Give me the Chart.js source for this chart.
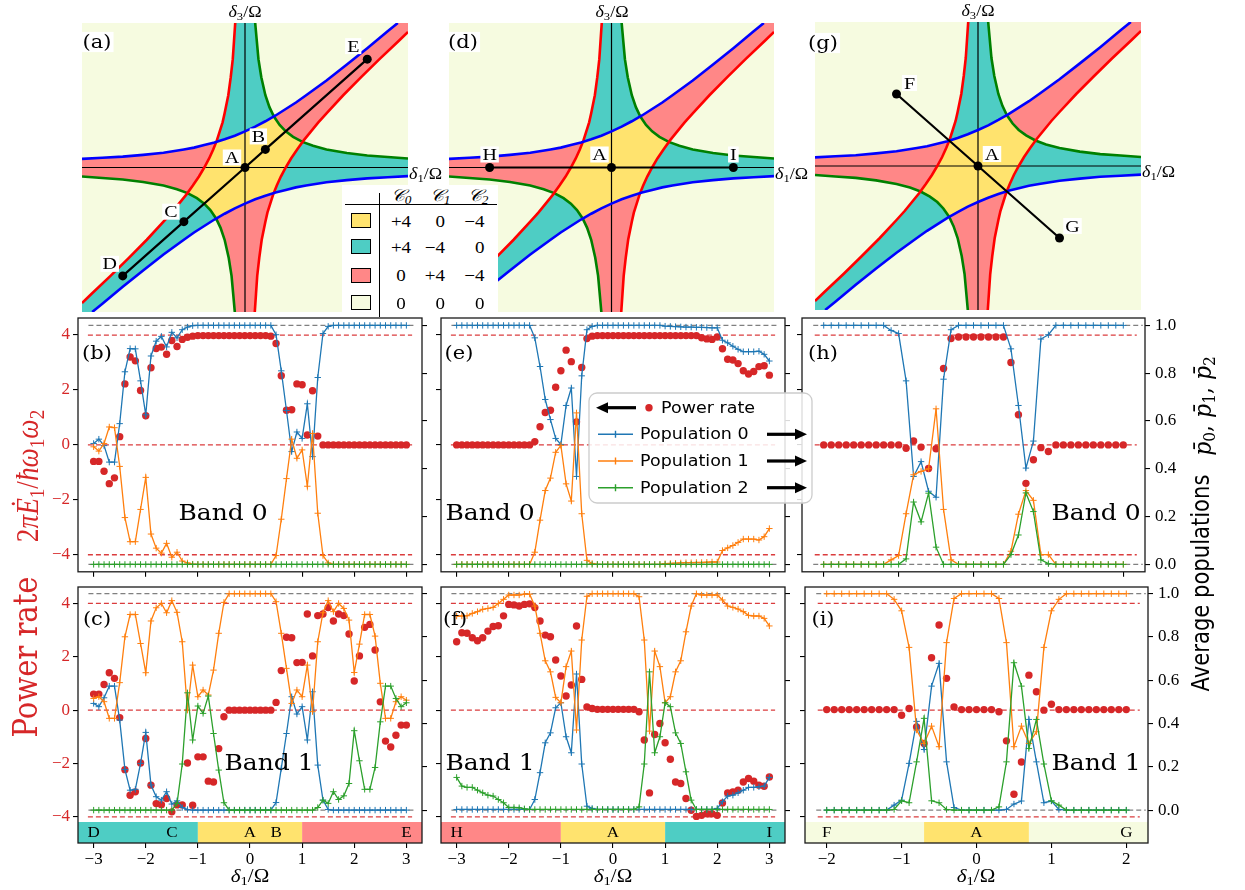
<!DOCTYPE html>
<html>
<head>
<meta charset="utf-8">
<script src="https://cdn.jsdelivr.net/npm/chart.js"></script>
<style>
  body { margin: 0; background: #fff; }
  #fig { position: relative; width: 1245px; height: 890px; overflow: hidden; background: #fff; }
  #fig canvas { position: absolute; }
  .t { position: absolute; white-space: nowrap; line-height: 1; font-family: 'DejaVu Serif', serif; color: #000;
       transform: translate(-50%, -50%) scaleY(0.88); z-index: 6; }
  .t sub { font-size: 0.7em; vertical-align: -0.28em; line-height: 0; }
</style>
</head>
<body>
<div id="fig"></div>
<script>
// sweep grids along the cuts
const x61 = [-3,-2.9,-2.8,-2.7,-2.6,-2.5,-2.4,-2.3,-2.2,-2.1,-2,-1.9,-1.8,-1.7,-1.6,-1.5,-1.4,-1.3,-1.2,-1.1,-1,-0.9,-0.8,-0.7,-0.6,-0.5,-0.4,-0.3,-0.2,-0.1,0,0.1,0.2,0.3,0.4,0.5,0.6,0.7,0.8,0.9,1,1.1,1.2,1.3,1.4,1.5,1.6,1.7,1.8,1.9,2,2.1,2.2,2.3,2.4,2.5,2.6,2.7,2.8,2.9,3];
const x41 = [-2,-1.9,-1.8,-1.7,-1.6,-1.5,-1.4,-1.3,-1.2,-1.1,-1,-0.9,-0.8,-0.7,-0.6,-0.5,-0.4,-0.3,-0.2,-0.1,0,0.1,0.2,0.3,0.4,0.5,0.6,0.7,0.8,0.9,1,1.1,1.2,1.3,1.4,1.5,1.6,1.7,1.8,1.9,2];

// (b) band 0, cut D-E
const bPower = [-0.6,-0.6,-0.96,-1.41,-1.2,0.3,2.22,3.2,3.06,1.98,1.06,2.81,3.51,3.56,3.3,3.8,3.58,3.84,3.92,3.96,
  3.98,3.98,3.98,3.98,3.98,3.98,3.98,3.98,3.98,3.98,3.98,3.98,3.98,3.98,
  3.96,3.69,2.52,1.26,1.28,2.22,2.19,0.36,1.97,0.32,
  0,0,0,0,0,0,0,0,0,0,0,0,0,0,0,0,0];
const bPop0 = [0.506,0.524,0.497,0.428,0.428,0.589,0.806,0.903,0.902,0.768,0.626,0.872,0.934,0.954,0.91,0.971,0.948,0.982,0.993,0.999,
  1,1,1,1,1,1,1,1,1,1,1,1,1,1,1,
  0.961,0.81,0.644,0.472,0.554,0.527,0.672,0.451,0.782,0.966,0.996,
  1,1,1,1,1,1,1,1,1,1,1,1,1,1,1];
const bPop1 = [0.492,0.474,0.506,0.575,0.572,0.41,0.196,0.095,0.095,0.23,0.364,0.127,0.068,0.047,0.088,0.03,0.051,0.014,0.006,0.001,
  0,0,0,0,0,0,0,0,0,0,0,0,0,0,0,
  0.037,0.189,0.359,0.524,0.444,0.479,0.327,0.548,0.214,0.037,0.006,
  0,0,0,0,0,0,0,0,0,0,0,0,0,0,0];
const bPop2 = [0,0,0,0,0,0,0,0,0,0,0,0,0,0,0,0,0,0,0,0,0,0,0,0,0,0,0,0,0,0,0,0,0,0,0,0,0,0,0,0,0,0,0,0,0,0,0,0,0,0,0,0,0,0,0,0,0,0,0,0,0];

// (c) band 1, cut D-E
const cPower = [0.6,0.6,0.96,1.4,1.19,-0.28,-2.23,-3.19,-3.06,-1.98,-1.06,-2.81,-3.5,-3.54,-3.31,-3.81,-3.55,-3.55,-1.98,-3.56,-1.75,-1.75,-2.66,-2.69,-1.44,-0.25,
  0,0,0,0,0,0,0,0,0,
  0.29,1.48,2.73,2.71,1.78,1.79,3.6,2.03,3.54,3.6,3.84,3.34,3.6,3.54,2.85,1.09,2.03,3.1,3.21,2.25,0.31,-1.16,-1.38,-0.94,-0.56,-0.56];
const cPop0 = [0.493,0.478,0.519,0.573,0.573,0.416,0.188,0.092,0.096,0.216,0.359,0.116,0.062,0.046,0.085,0.028,0.043,0.012,0.003,0,
  0,0,0,0,0,0,0,0,0,0,0,0,0,0,0,
  0.035,0.193,0.354,0.524,0.444,0.478,0.324,0.547,0.208,0.046,0.003,
  0,0,0,0,0,0,0,0,0,0,0,0,0,0,0];
const cPop1 = [0.516,0.524,0.501,0.424,0.424,0.589,0.801,0.904,0.904,0.77,0.635,0.874,0.935,0.955,0.912,0.968,0.914,0.778,0.462,0.67,0.524,0.555,0.532,0.647,0.817,0.96,
  1,1,1,1,1,1,1,1,1,
  0.963,0.817,0.655,0.493,0.555,0.524,0.67,0.455,0.778,0.912,0.968,0.917,0.955,0.932,0.878,0.636,0.767,0.904,0.904,0.804,0.586,0.424,0.424,0.501,0.524,0.508];
const cPop2 = [0,0,0,0,0,0,0,0,0,0,0,0,0,0,0,0,
  0.031,0.213,0.542,0.324,0.481,0.447,0.527,0.354,0.185,0.034,
  0,0,0,0,0,0,0,0,0,0,0,0,0,0,0,0,0,
  0.012,0.046,0.031,0.085,0.049,0.066,0.123,0.367,0.228,0.096,0.096,0.197,0.408,0.573,0.573,0.516,0.478,0.496];

// (e) band 0, cut H-I
const ePower = [0,0,0,0,0,0,0,0,0,0,0,0,0,0,0,
  0.12,0.66,1.18,1.26,2.1,2.7,3.45,3.03,0.84,2.82,3.87,3.96,
  3.98,3.98,3.98,3.98,3.98,3.98,3.98,3.98,3.98,3.98,3.98,3.98,3.98,3.98,3.98,3.98,3.98,3.98,3.98,3.98,
  3.9,3.86,3.84,3.93,3.5,3.12,3.09,2.96,2.7,2.58,2.67,2.85,2.88,2.54];
const ePop0 = [1,1,1,1,1,1,1,1,1,1,1,1,1,1,1,
  0.948,0.828,0.69,0.606,0.527,0.502,0.665,0.738,0.368,0.789,0.982,0.996,
  1,1,1,1,1,1,1,1,1,1,1,1,1,
  0.997,0.996,0.995,0.994,0.993,0.993,0.992,0.992,0.991,0.99,0.99,
  0.938,0.927,0.913,0.9,0.89,0.89,0.89,0.892,0.879,0.851];
const ePop1 = [0,0,0,0,0,0,0,0,0,0,0,0,0,0,0,
  0.051,0.185,0.309,0.361,0.469,0.498,0.337,0.265,0.634,0.212,0.017,0.004,
  0,0,0,0,0,0,0,0,0,0,0,0,0,
  0.003,0.004,0.005,0.006,0.007,0.007,0.008,0.008,0.009,0.01,0.01,
  0.058,0.069,0.079,0.092,0.106,0.106,0.106,0.102,0.116,0.15];
const ePop2 = [0,0,0,0,0,0,0,0,0,0,0,0,0,0,0,0,0,0,0,0,0,0,0,0,0,0,0,0,0,0,0,0,0,0,0,0,0,0,0,0,0,0,0,0,0,0,0,0,0,0,0,0,0,0,0,0,0,0,0,0,0];

// (f) band 1, cut H-I
const fPower = [2.56,2.9,2.88,2.71,2.6,2.71,2.96,3.13,3.16,3.53,3.96,3.94,3.9,3.96,3.98,3.84,3.34,2.81,2.75,1.88,1.28,0.53,0.94,3.15,1.15,0.12,0.06,
  0.03,0.03,0.03,0.03,0.03,0.03,0.03,0.03,
  -0.06,-1.12,-3.1,-0.91,-0.5,-1.22,-1.84,-2.69,-2.75,-3.31,-3.75,-3.98,-3.94,-3.88,-3.88,-3.94,-3.48,-3.1,-3.06,-3.0,-2.69,-2.56,-2.66,-2.81,-2.85,-2.5];
const fPop0 = [0.003,0.003,0.003,0.003,0.003,0.003,0.003,0.003,0.003,0.003,0.003,0.003,0.003,0.003,0.003,
  0.049,0.173,0.311,0.357,0.473,0.496,0.339,0.265,0.629,0.213,0.018,0.008,
  0.003,0.003,0.003,0.003,0.003,0.003,0.003,0.003,0.003,0.003,0.003,0.003,0.003,0.003,0.003,0.003,0.003,0.003,0.003,0.003,0.003,0.003,0.003,
  0.008,0.039,0.065,0.069,0.08,0.092,0.105,0.105,0.108,0.111,0.151];
const fPop1 = [0.897,0.897,0.898,0.909,0.917,0.928,0.932,0.937,0.955,0.974,0.994,0.994,0.994,0.998,0.998,0.943,0.817,0.69,0.639,0.521,0.496,0.663,0.735,0.37,0.786,0.988,1,
  1,1,1,1,1,1,1,1,
  0.986,0.786,0.365,0.735,0.663,0.496,0.524,0.639,0.69,0.824,0.943,1,0.994,0.994,0.994,0.994,0.971,0.943,0.937,0.929,0.917,0.9,0.897,0.897,0.886,0.851];
const fPop2 = [0.151,0.111,0.105,0.105,0.092,0.08,0.069,0.065,0.049,0.034,0.012,0.012,0.011,0.006,
  0.003,0.003,0.003,0.003,0.003,0.003,0.003,0.003,0.003,0.003,0.003,0.003,0.003,0.003,0.003,0.003,0.003,0.003,0.003,0.003,0.003,
  0.015,0.213,0.639,0.265,0.339,0.496,0.478,0.357,0.308,0.177,0.046,
  0.003,0.003,0.003,0.003,0.003,0.003,0.003,0.003,0.003,0.003,0.003,0.003,0.003,0.003,0.003];

// (h) band 0, cut F-G
const hPower = [0,0,0,0,0,0,0,0,0,0,0,
  -0.12,0.14,-0.08,-0.86,-0.14,2.78,3.87,
  3.93,3.93,3.93,3.93,3.93,3.93,3.93,
  3.0,1.1,-1.4,-0.54,-0.1,-0.24,
  0,0,0,0,0,0,0,0,0,0];
const hPop0 = [1,1,1,1,1,1,1,1,1,
  0.979,0.966,0.768,0.368,0.43,0.306,0.281,0.775,0.982,
  1,1,1,1,1,1,1,
  0.902,0.665,0.403,0.516,0.943,0.961,
  1,1,1,1,1,1,1,1,1,1];
const hPop1 = [0,0,0,0,0,0,0,0,0,
  0.019,0.037,0.212,0.375,0.389,0.4,0.651,0.23,0.019,
  0,0,0,0,0,0,0,
  0.055,0.21,0.309,0.268,0.041,0.041,
  0,0,0,0,0,0,0,0,0,0];
const hPop2 = [0,0,0,0,0,0,0,0,0,0,0,
  0.023,0.261,0.178,0.298,0.072,0,
  0,0,0,0,0,0,0,0,
  0.041,0.123,0.299,0.221,0.019,0.003,
  0,0,0,0,0,0,0,0,0,0];

// (i) band 1, cut F-G
const iPower = [0.02,0.02,0.02,0.02,0.02,0.02,0.02,0.02,0.02,0.02,
  -0.19,0.06,-0.63,-1.25,1.96,3.19,1.19,0.12,
  0.02,0.02,0.02,0.02,0.02,
  -0.06,-1.15,-3.15,-1.94,1.31,0.69,0,0.22,
  0.02,0.02,0.02,0.02,0.02,0.02,0.02,0.02,0.02,0.02];
const iPop0 = [0,0,0,0,0,0,0,0,0,
  0.023,0.046,0.216,0.41,0.28,0.573,0.678,0.223,0.012,
  0,0,0,0,0,0,
  0.003,0.028,0.042,0.419,0.223,0.034,0.042,0.003,
  0,0,0,0,0,0,0,0,0];
const iPop1 = [1,1,1,1,1,1,1,1,1,
  0.974,0.921,0.752,0.37,0.308,0.388,0.293,0.774,0.978,
  1,1,1,1,1,
  0.978,0.774,0.293,0.388,0.308,0.362,0.752,0.921,0.974,
  1,1,1,1,1,1,1,1,1];
const iPop2 = [0,0,0,0,0,0,0,0,0,
  0.003,0.043,0.034,0.223,0.424,0.043,0.034,0.003,
  0,0,0,0,0,0,
  0.015,0.223,0.681,0.573,0.285,0.419,0.213,0.043,0.023,
  0,0,0,0,0,0,0,0,0];

// ticks and reference levels
const wideTicks = [-3, -2, -1, 0, 1, 2, 3];
const narrowTicks = [-2, -1, 0, 1, 2];
const powerTicks = [-4, -2, 0, 2, 4];
const popTicks = [0, 0.2, 0.4, 0.6, 0.8, 1];
const powerRefs = [-4, 0, 4];
const popRefs = [0, 1];

// phase boundaries in the (delta1, delta3) plane
const blueUpper = [[-4,0.24],[-3.5,0.27],[-3,0.3],[-2.5,0.35],[-2,0.41],[-1.5,0.5],[-1.25,0.55],[-1,0.62],[-0.75,0.69],[-0.5,0.78],[-0.25,0.88],[0,1],[0.25,1.13],[0.5,1.28],[0.75,1.44],[1,1.62],[1.25,1.8],[1.5,2],[2,2.41],[2.5,2.85],[3,3.3],[3.5,3.77],[3.75,4]];
const blueLower = [[-3.75,-4],[-3.5,-3.77],[-3,-3.3],[-2.5,-2.85],[-2,-2.41],[-1.5,-2],[-1.25,-1.8],[-1,-1.62],[-0.75,-1.44],[-0.5,-1.28],[-0.25,-1.13],[0,-1],[0.25,-0.88],[0.5,-0.78],[0.75,-0.69],[1,-0.62],[1.25,-0.55],[1.5,-0.5],[2,-0.41],[2.5,-0.35],[3,-0.3],[3.5,-0.27],[4,-0.24]];
const redRight = [[0.24,-4],[0.27,-3.5],[0.3,-3],[0.35,-2.5],[0.41,-2],[0.5,-1.5],[0.55,-1.25],[0.62,-1],[0.69,-0.75],[0.78,-0.5],[0.88,-0.25],[1,0],[1.13,0.25],[1.28,0.5],[1.44,0.75],[1.62,1],[1.8,1.25],[2,1.5],[2.41,2],[2.85,2.5],[3.3,3],[3.77,3.5],[4,3.75]];
const redLeft = [[-0.24,4],[-0.27,3.5],[-0.3,3],[-0.35,2.5],[-0.41,2],[-0.5,1.5],[-0.55,1.25],[-0.62,1],[-0.69,0.75],[-0.78,0.5],[-0.88,0.25],[-1,0],[-1.13,-0.25],[-1.28,-0.5],[-1.44,-0.75],[-1.62,-1],[-1.8,-1.25],[-2,-1.5],[-2.41,-2],[-2.85,-2.5],[-3.3,-3],[-3.77,-3.5],[-4,-3.75]];
const greenUpper = [[0.25,4],[0.29,3.5],[0.33,3],[0.4,2.5],[0.5,2],[0.6,1.67],[0.71,1.41],[0.85,1.18],[1,1],[1.18,0.85],[1.41,0.71],[1.67,0.6],[2,0.5],[2.5,0.4],[3,0.33],[3.5,0.29],[4,0.25]];
const greenLower = [[-0.25,-4],[-0.29,-3.5],[-0.33,-3],[-0.4,-2.5],[-0.5,-2],[-0.6,-1.67],[-0.71,-1.41],[-0.85,-1.18],[-1,-1],[-1.18,-0.85],[-1.41,-0.71],[-1.67,-0.6],[-2,-0.5],[-2.5,-0.4],[-3,-0.33],[-3.5,-0.29],[-4,-0.25]];
const axisH = [[-4,0],[4,0]];
const axisV = [[0,-4],[0,4]];

// cuts through the phase diagram
const cutA = [[-3,-3],[-1.5,-1.5],[0,0],[0.5,0.5],[3,3]];
const cutANames = ['D','C','A','B','E'];
const cutD = [[-3,0],[0,0],[3,0]];
const cutDNames = ['H','A','I'];
const cutG = [[-2,2],[0,0],[2,-2]];
const cutGNames = ['F','A','G'];

// phases met along each cut
const stripCEdges = [-1, 1];
const stripCPhases = ['teal','yellow','salmon'];
const stripCNames = [['D',-3],['C',-1.5],['A',0],['B',0.5],['E',3]];
const stripFEdges = [-1, 1];
const stripFPhases = ['salmon','yellow','teal'];
const stripFNames = [['H',-3],['A',0],['I',3]];
const stripIEdges = [-0.7, 0.7];
const stripIPhases = ['none','yellow','none'];
const stripINames = [['F',-2],['A',0],['G',2]];

// Chern numbers table
const chernHead = ['\u{1D49E}<sub>0</sub>','\u{1D49E}<sub>1</sub>','\u{1D49E}<sub>2</sub>'];
const chernRows = [['+4','0','\u22124'],['+4','\u22124','0'],['0','+4','\u22124'],['0','0','0']];
const chernPhases = ['yellow','teal','salmon','none'];

const legendNames = ['Power rate','Population 0','Population 1','Population 2'];

// styles
const PHASE = {yellow: '#ffe36e', teal: '#4ecdc4', salmon: '#ff8787', none: '#f6fbe0'};
const RED = '#d62728', BLUE = '#1f77b4', ORANGE = '#ff7f0e', GREEN = '#2ca02c';
const fig = document.getElementById('fig');

function addCanvas(l, t, w, h, z) {
  const c = document.createElement('canvas');
  c.width = w; c.height = h;
  c.style.cssText = `left:${l}px;top:${t}px;width:${w}px;height:${h}px;z-index:${z}`;
  fig.appendChild(c);
  return c;
}
function text(html, x, y, css) {
  const d = document.createElement('div');
  d.className = 't';
  d.innerHTML = html;
  d.style.left = x + 'px';
  d.style.top = y + 'px';
  if (css) d.style.cssText += css;
  fig.appendChild(d);
  return d;
}
const squashText = (ctx, s, x, y) => { ctx.save(); ctx.translate(x, y); ctx.scale(1, 0.88); ctx.fillText(s, 0, 0); ctx.restore(); };

// ---------- phase diagrams ----------
const phaseFill = {
  id: 'phaseFill',
  beforeDatasetsDraw(chart) {
    const {ctx, chartArea: a, scales: {x, y}} = chart;
    const trace = pts => {
      ctx.beginPath();
      pts.forEach(([u, v], i) => ctx[i ? 'lineTo' : 'moveTo'](x.getPixelForValue(u), y.getPixelForValue(v)));
      ctx.closePath();
    };
    const paint = (clips, shape, color) => {
      ctx.save();
      clips.forEach(c => { trace(c); ctx.clip(); });
      trace(shape);
      ctx.fillStyle = color;
      ctx.fill();
      ctx.restore();
    };
    const setB = [...blueUpper, [4,4], ...blueLower.slice().reverse(), [-4,-4]];
    const setR = [...redRight, [4,4], ...redLeft, [-4,-4]];
    const setG = [...greenUpper, [4,-4], ...greenLower, [-4,4]];
    const right = [[0,-4],[4,-4],[4,4],[0,4]], left = [[-4,-4],[0,-4],[0,4],[-4,4]];
    const up = [[-4,0],[4,0],[4,4],[-4,4]], down = [[-4,-4],[4,-4],[4,0],[-4,0]];
    ctx.save();
    ctx.fillStyle = PHASE.none;
    ctx.fillRect(a.left, a.top, a.width, a.height);
    ctx.restore();
    paint([right, setR], setB, PHASE.salmon);
    paint([left, setR], setB, PHASE.teal);
    paint([setG, right], setB, PHASE.teal);
    paint([setG, left], setB, PHASE.salmon);
    paint([setG, up], setR, PHASE.teal);
    paint([setG, down], setR, PHASE.salmon);
    paint([setG, setR], setB, PHASE.yellow);
  }
};
const pointLabels = (pts, names, offs) => ({
  id: 'pointLabels',
  afterDatasetsDraw(chart) {
    const {ctx, scales: {x, y}} = chart;
    ctx.save();
    ctx.font = '20px "Liberation Serif"';
    ctx.textAlign = 'center';
    ctx.textBaseline = 'middle';
    pts.forEach(([u, v], i) => {
      const px = x.getPixelForValue(u) + offs[i][0], py = y.getPixelForValue(v) + offs[i][1];
      const w = ctx.measureText(names[i]).width + 4;
      ctx.fillStyle = '#fff';
      ctx.fillRect(px - w / 2, py - 8, w, 16);
      ctx.fillStyle = '#000';
      squashText(ctx, names[i], px, py + 1);
    });
    ctx.restore();
  }
});
function phasePanel(box, cut, names, offs) {
  const cv = addCanvas(box[0], box[1], box[2], box[3], 1);
  const line = (pts, color, w) => ({data: pts.map(([x, y]) => ({x, y})), borderColor: color, borderWidth: w, pointRadius: 0});
  new Chart(cv, {
    type: 'line',
    data: {datasets: [
      {...line(cut, '#000', 2.2), pointRadius: 4.5, pointBackgroundColor: '#000', pointBorderWidth: 0},
      line(blueUpper, '#0000ff', 2.6), line(blueLower, '#0000ff', 2.6),
      line(redLeft, '#ff0000', 2.6), line(redRight, '#ff0000', 2.6),
      line(greenUpper, '#008000', 2.6), line(greenLower, '#008000', 2.6),
      line(axisH, '#000', 1.2), line(axisV, '#000', 1.2)
    ]},
    options: {
      responsive: false, animation: false, events: [],
      layout: {padding: 0, autoPadding: false},
      plugins: {legend: {display: false}, tooltip: {enabled: false}},
      scales: {
        x: {type: 'linear', min: -4, max: 4, display: false},
        y: {type: 'linear', min: -4, max: 4, display: false}
      }
    },
    plugins: [phaseFill, pointLabels(cut, names, offs)]
  });
}
phasePanel([82, 23, 326, 289], cutA, cutANames, [[-13,-12],[-13,-10],[-13,-10],[-7,-13],[-14,-13]]);
phasePanel([449, 23, 325, 289], cutD, cutDNames, [[0,-13],[-12,-13],[0,-13]]);
phasePanel([815, 22, 326, 288], cutG, cutGNames, [[13,-11],[14,-12],[13,-12]]);

// ---------- sweep panels ----------
const frame = {
  id: 'frame',
  afterDatasetsDraw(chart) {
    const {ctx, chartArea: a} = chart;
    ctx.save();
    ctx.strokeStyle = '#1a1a1a';
    ctx.lineWidth = 1.3;
    ctx.strokeRect(a.left, a.top, a.width, a.height);
    ctx.restore();
  }
};
const phaseStrip = (edges, phases, names) => ({
  id: 'phaseStrip',
  beforeDatasetsDraw(chart) {
    const {ctx, chartArea: a, scales: {x}} = chart;
    const xs = [a.left, ...edges.map(e => x.getPixelForValue(e)), a.right];
    const top = a.bottom - 21;
    ctx.save();
    phases.forEach((p, i) => { ctx.fillStyle = PHASE[p]; ctx.fillRect(xs[i], top, xs[i + 1] - xs[i], a.bottom - top); });
    ctx.fillStyle = '#000';
    ctx.font = '17px "Liberation Serif"';
    ctx.textAlign = 'center';
    ctx.textBaseline = 'middle';
    names.forEach(([s, v]) => squashText(ctx, s, x.getPixelForValue(v), (top + a.bottom) / 2 + 1));
    ctx.restore();
  }
});
const arrow = (ctx, x0, x1, y) => {
  const dir = Math.sign(x1 - x0);
  ctx.beginPath();
  ctx.moveTo(x0, y);
  ctx.lineTo(x1 - dir * 9, y);
  ctx.lineWidth = 3.2;
  ctx.strokeStyle = '#000';
  ctx.stroke();
  ctx.beginPath();
  ctx.moveTo(x1, y);
  ctx.lineTo(x1 - dir * 12, y - 5.5);
  ctx.lineTo(x1 - dir * 12, y + 5.5);
  ctx.closePath();
  ctx.fillStyle = '#000';
  ctx.fill();
};
const legendBox = {
  id: 'legendBox',
  afterDraw(chart) {
    const {ctx, chartArea: a} = chart;
    const L = a.left, T = a.top;
    const rows = [89.7, 116.3, 143, 169.7];
    ctx.save();
    ctx.beginPath();
    ctx.roundRect(L + 148, T + 75, 223, 110, 8);
    ctx.fillStyle = 'rgba(255,255,255,0.85)';
    ctx.fill();
    ctx.strokeStyle = '#cccccc';
    ctx.lineWidth = 1.3;
    ctx.stroke();
    ctx.font = '17.5px "DejaVu Sans"';
    ctx.textAlign = 'left';
    ctx.textBaseline = 'middle';
    arrow(ctx, L + 195, L + 155, T + rows[0]);
    ctx.beginPath();
    ctx.arc(L + 208, T + rows[0], 3.7, 0, Math.PI * 2);
    ctx.fillStyle = RED;
    ctx.fill();
    ctx.fillStyle = '#000';
    squashText(ctx, legendNames[0], L + 220, T + rows[0] + 1);
    [BLUE, ORANGE, GREEN].forEach((c, k) => {
      const y = T + rows[k + 1];
      ctx.strokeStyle = c;
      ctx.lineWidth = 1.4;
      ctx.beginPath();
      ctx.moveTo(L + 157, y); ctx.lineTo(L + 192, y);
      ctx.moveTo(L + 174.5, y - 3.5); ctx.lineTo(L + 174.5, y + 3.5);
      ctx.stroke();
      ctx.fillStyle = '#000';
      squashText(ctx, legendNames[k + 1], L + 199, y + 1);
      arrow(ctx, L + 326, L + 366, y);
    });
    ctx.restore();
  }
};

const minusFmt = v => String(v).replace('-', '\u2212');
const tickFont = {family: 'Liberation Serif', size: 17};

function sweepPanel(o) {
  const M = 56, PT = 16, PB = o.showX ? 36 : 12;
  const [l, t, w, h] = o.box;
  const cv = addCanvas(l - M, t - PT, w + 2 * M, h + PT + PB, o.z || 2);
  const pts = arr => o.xs.map((x, i) => ({x, y: arr[i]}));
  const ref = (v, axis, color, span) => ({data: [{x: span[0], y: v}, {x: span[1], y: v}], yAxisID: axis,
    borderColor: color, borderWidth: 1.3, borderDash: [5, 3], pointRadius: 0});
  const pop = (arr, color) => ({data: pts(arr), yAxisID: 'yR', borderColor: color, backgroundColor: color,
    borderWidth: 1.3, pointStyle: 'cross', pointRadius: 3.2, pointBorderWidth: 1, pointBorderColor: color});
  const datasets = [
    pop(o.p2, GREEN), pop(o.p1, ORANGE), pop(o.p0, BLUE),
    ...popRefs.map(v => ref(v, 'yR', '#808080', o.graySpan)),
    {data: pts(o.power), yAxisID: 'yL', showLine: false, pointRadius: 3.7, pointBackgroundColor: RED,
      pointBorderWidth: 0, borderColor: RED, backgroundColor: RED},
    ...powerRefs.map(v => ref(v, 'yL', 'rgba(214,39,40,0.9)', o.redSpan))
  ];
  const grid = {drawOnChartArea: false, drawTicks: true, tickLength: 5, color: '#000', tickColor: '#000', lineWidth: 1.1};
  const plugins = [frame];
  if (o.strip) plugins.push(phaseStrip(...o.strip));
  if (o.legend) plugins.push(legendBox);
  new Chart(cv, {
    type: 'line',
    data: {datasets},
    options: {
      responsive: false, animation: false, events: [],
      layout: {padding: {top: PT, left: 0, right: 0, bottom: 0}, autoPadding: false},
      plugins: {legend: {display: false}, tooltip: {enabled: false}},
      scales: {
        x: {type: 'linear', min: o.xr[0], max: o.xr[1],
          afterFit: s => { s.height = PB; },
          afterBuildTicks: s => { s.ticks = o.xt.map(value => ({value})); },
          ticks: {callback: v => o.showX ? minusFmt(v) : '', font: tickFont, color: '#000', padding: 1, maxRotation: 0, autoSkip: false},
          grid, border: {display: false}},
        yL: {type: 'linear', position: 'left', min: o.yl[0], max: o.yl[1],
          afterFit: s => { s.width = M; },
          afterBuildTicks: s => { s.ticks = powerTicks.map(value => ({value})); },
          ticks: {callback: v => o.showL ? minusFmt(v) : '', font: tickFont, color: RED, padding: 3, autoSkip: false},
          grid, border: {display: false}},
        yR: {type: 'linear', position: 'right', min: o.yr[0], max: o.yr[1],
          afterFit: s => { s.width = M; },
          afterBuildTicks: s => { s.ticks = popTicks.map(value => ({value})); },
          ticks: {callback: v => o.showR ? v.toFixed(1) : '', font: tickFont, color: '#000', padding: 5, autoSkip: false},
          grid, border: {display: false}}
      }
    },
    plugins
  });
}

const MID = {t: 318, h: 257, yl: [-4.62, 4.62], yr: [-0.031, 1.031]};
const BOT = {t: 587, h: 256, yl: [-4.976, 4.611], yr: [-0.152, 1.031]};
const wide = {xs: x61, xt: wideTicks, xr: [-3.3, 3.3], redSpan: [-3.11, 3.11], graySpan: [-3.1, 3.14]};
const narrow = {xs: x41, xt: narrowTicks, xr: [-2.29, 2.29], redSpan: [-2.12, 2.18], graySpan: [-2.14, 2.26]};

sweepPanel({...wide, box: [78, MID.t, 344, MID.h], yl: MID.yl, yr: MID.yr, power: bPower, p0: bPop0, p1: bPop1, p2: bPop2, showL: true});
sweepPanel({...wide, box: [78, BOT.t, 344, BOT.h], yl: BOT.yl, yr: BOT.yr, power: cPower, p0: cPop0, p1: cPop1, p2: cPop2, showL: true, showX: true,
  strip: [stripCEdges, stripCPhases, stripCNames]});
sweepPanel({...narrow, box: [802, MID.t, 343, MID.h], yl: MID.yl, yr: MID.yr, power: hPower, p0: hPop0, p1: hPop1, p2: hPop2, showR: true});
sweepPanel({...narrow, box: [805, BOT.t, 343, BOT.h], yl: BOT.yl, yr: BOT.yr, power: iPower, p0: iPop0, p1: iPop1, p2: iPop2, showR: true, showX: true,
  strip: [stripIEdges, stripIPhases, stripINames]});
sweepPanel({...wide, box: [441, MID.t, 344, MID.h], yl: MID.yl, yr: MID.yr, power: ePower, p0: ePop0, p1: ePop1, p2: ePop2, legend: true, z: 3});
sweepPanel({...wide, box: [441, BOT.t, 344, BOT.h], yl: BOT.yl, yr: BOT.yr, power: fPower, p0: fPop0, p1: fPop1, p2: fPop2, showX: true,
  strip: [stripFEdges, stripFPhases, stripFNames]});

// ---------- Chern table ----------
const tbl = document.createElement('div');
tbl.style.cssText = 'position:absolute;left:342px;top:185px;width:156px;height:127px;background:#fff;z-index:5';
fig.appendChild(tbl);
const rule = (l, t, w, h) => { const d = document.createElement('div'); d.style.cssText = `position:absolute;left:${l}px;top:${t}px;width:${w}px;height:${h}px;background:#000;z-index:6`; fig.appendChild(d); };
rule(379, 193, 1.4, 124);
rule(345, 203.5, 152, 1.4);
const colX = [401, 440, 478];
chernHead.forEach((s, j) => text(s, colX[j], 195, 'font-family:"Liberation Serif";font-style:italic;font-size:19px'));
chernRows.forEach((row, i) => {
  const y = [220.7, 246.7, 275, 302.7][i];
  const sw = document.createElement('div');
  sw.style.cssText = `position:absolute;left:351px;top:${y - 7.5}px;width:18px;height:13px;border:1px solid #000;background:${PHASE[chernPhases[i]]};z-index:6`;
  fig.appendChild(sw);
  row.forEach((s, j) => text(s, [401, 445, 484.5][j], y, 'font-family:"Liberation Serif";font-size:19px;' +
    (j ? 'transform:translate(-100%,-50%) scaleY(0.88)' : '')));
});

// ---------- text labels ----------
const lbl = 'background:#fff;padding:1px 2px;font-size:21px';
text('(a)', 97, 42, lbl);
text('(d)', 463, 42, lbl);
text('(g)', 823, 43, lbl);
const d3 = '<i>\u03b4</i><sub>3</sub>/\u03a9', d1 = '<i>\u03b4</i><sub>1</sub>/\u03a9';
[[245, 12], [612, 12], [978, 11]].forEach(([x, y]) => text(d3, x, y, 'font-family:"Liberation Serif";font-size:18px'));
[[409, 174], [775, 174], [1142, 172]].forEach(([x, y]) => text(d1, x, y, 'font-family:"Liberation Serif";font-size:18px;transform:translate(0,-50%) scaleY(0.88)'));
[['(b)', 97, 353], ['(e)', 459, 353], ['(h)', 823, 353], ['(c)', 97, 619], ['(f)', 455, 619], ['(i)', 823, 619]]
  .forEach(([s, x, y]) => text(s, x, y, 'font-size:21px'));
[['Band 0', 223, 513], ['Band 0', 490, 513], ['Band 0', 1096, 513], ['Band 1', 269, 763], ['Band 1', 490, 763], ['Band 1', 1096, 763]]
  .forEach(([s, x, y]) => text(s, x, y, 'font-size:25px'));
[[250, 876], [613, 876], [976, 876]].forEach(([x, y]) => text(d1, x, y, 'font-family:"Liberation Serif";font-size:21px'));
const rot = 'transform:translate(-50%,-50%) scaleY(0.88) rotate(-90deg);';
text('Power rate', 25, 657, rot + 'font-size:33px;color:' + RED);
text('2<i>\u03c0\u0116</i><sub>1</sub>/<i>\u0127\u03c9</i><sub>1</sub><i>\u03c9</i><sub>2</sub>', 27, 476, rot + 'font-family:"Liberation Serif";font-size:31px;color:' + RED);
text('Average populations', 1201, 583, rot + 'font-family:"DejaVu Sans";font-size:24px');
text('<i>p\u0304</i><sub>0</sub>, <i>p\u0304</i><sub>1</sub>, <i>p\u0304</i><sub>2</sub>', 1202, 406, rot + 'font-family:"DejaVu Serif";font-size:25px');
</script>
</body>
</html>
